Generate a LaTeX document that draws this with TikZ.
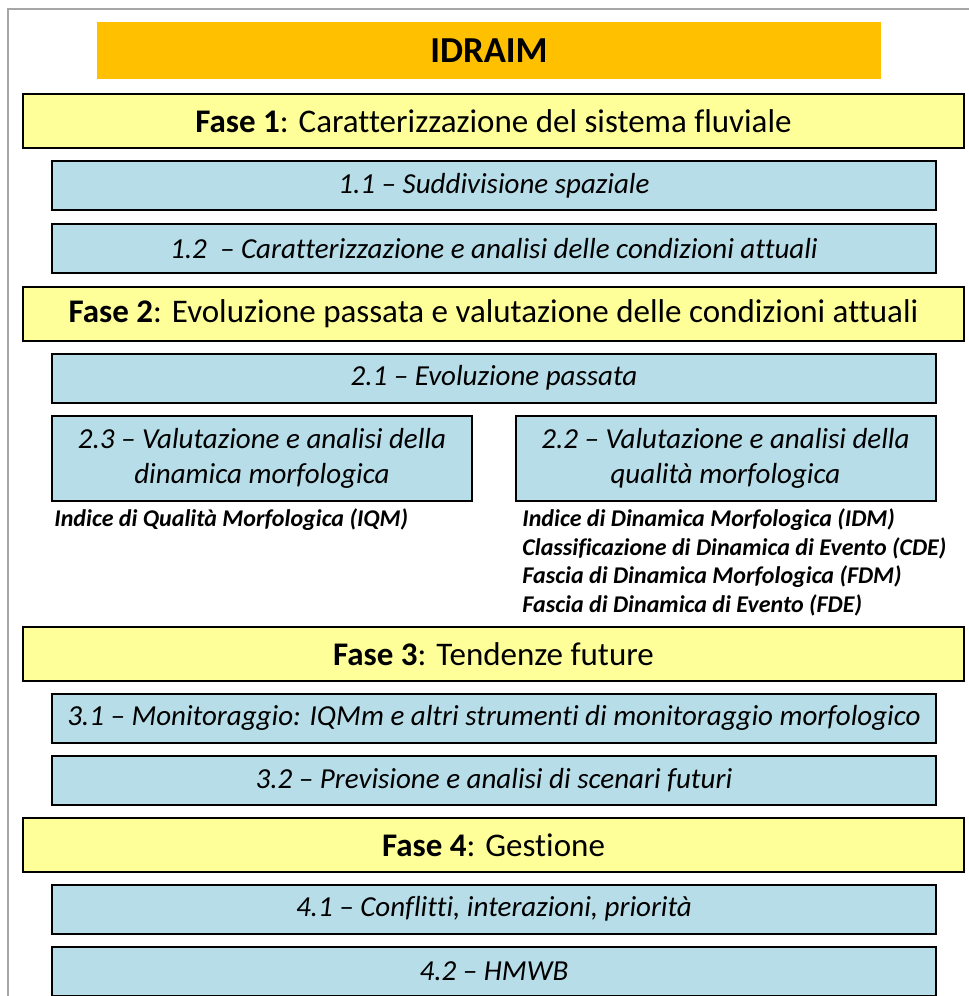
\documentclass[tikz,border=0pt]{standalone}
\usepackage{fontspec}
\setmainfont{Carlito}[Ligatures=NoCommon]
\usepackage{tikz}
\usetikzlibrary{positioning}

\definecolor{titolo}{HTML}{FFC000}
\definecolor{fasegiallo}{HTML}{FFFF99}
\definecolor{passoblu}{HTML}{B7DDE8}
\definecolor{cornice}{HTML}{A6A6A6}

\begin{document}
\begin{tikzpicture}[x=0.5pt,y=-0.5pt,
    fase/.style={draw=black, line width=1pt, fill=fasegiallo, minimum width=470.5pt,
      minimum height=27pt, inner sep=0pt, font=\fontsize{16.5}{19}\selectfont},
    passo/.style={draw=black, line width=1pt, fill=passoblu, minimum width=442pt,
      minimum height=24.5pt, inner sep=0pt, font=\fontsize{14.5}{17.5}\selectfont\itshape},
    passodoppio/.style={passo, minimum width=210pt, minimum height=42.5pt, align=center},
    indice/.style={anchor=west, inner sep=0pt, font=\fontsize{12}{14}\selectfont\bfseries\itshape}]
    \useasboundingbox (0,0) rectangle (969,996);

    % cornice esterna
    \draw[cornice, line width=0.7pt] (8,996) -- (8,9) -- (969,9);

    % titolo
    \node[fill=titolo, minimum width=392pt, minimum height=28.5pt, inner sep=0pt,
      font=\fontsize{18.3}{21}\selectfont\bfseries] (idraim) at (489,50.5) {IDRAIM};

    % Fase 1
    \node[fase] (fase1) at (493.5,121) {\textbf{Fase 1}: Caratterizzazione del sistema fluviale};
    \node[passo] (p11) at (494,185.5) {1.1 – Suddivisione spaziale};
    \node[passo] (p12) at (494,248.5) {1.2 \ – Caratterizzazione e analisi delle condizioni attuali};

    % Fase 2
    \node[fase] (fase2) at (493.5,313.5) {\textbf{Fase 2}: Evoluzione passata e valutazione delle condizioni attuali};
    \node[passo] (p21) at (494,378) {2.1 – Evoluzione passata};
    \node[passodoppio] (p23) at (262,458.5) {2.3 – Valutazione e analisi della\\dinamica morfologica};
    \node[passodoppio] (p22) at (725.5,458.5) {2.2 – Valutazione e analisi della\\qualità morfologica};

    % indici
    \node[indice] (iqm) at (54,520) {Indice di Qualità Morfologica (IQM)};
    \node[indice] (idm) at (522,520) {Indice di Dinamica Morfologica (IDM)};
    \node[indice] (cde) at (522,548.5) {Classificazione di Dinamica di Evento (CDE)};
    \node[indice] (fdm) at (522,577) {Fascia di Dinamica Morfologica (FDM)};
    \node[indice] (fde) at (522,605.5) {Fascia di Dinamica di Evento (FDE)};

    % Fase 3
    \node[fase] (fase3) at (493.5,654) {\textbf{Fase 3}: Tendenze future};
    \node[passo] (p31) at (494,718) {3.1 – Monitoraggio: IQMm e altri strumenti di monitoraggio morfologico};
    \node[passo] (p32) at (494,780.5) {3.2 – Previsione e analisi di scenari futuri};

    % Fase 4
    \node[fase] (fase4) at (493.5,845) {\textbf{Fase 4}: Gestione};
    \node[passo] (p41) at (494,909) {4.1 – Conflitti, interazioni, priorità};
    \node[passo] (p42) at (494,971.5) {4.2 – HMWB};
\end{tikzpicture}
\end{document}
